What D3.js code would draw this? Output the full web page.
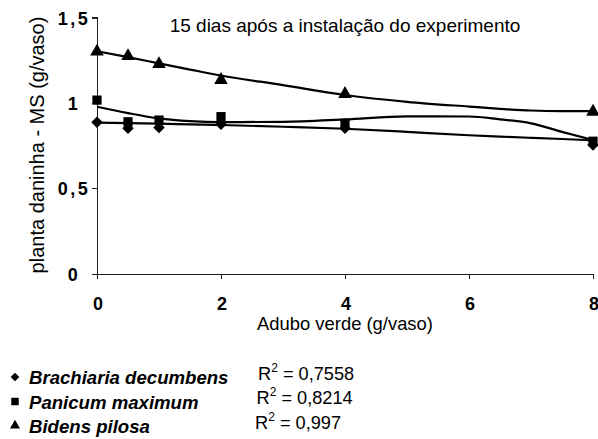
<!DOCTYPE html>
<html>
<head>
<meta charset="utf-8">
<script src="https://cdn.jsdelivr.net/npm/d3@7"></script>
<style>
  html, body { margin: 0; padding: 0; background: #fff; }
  svg { display: block; font-family: Arial, "Liberation Sans", sans-serif; }
</style>
</head>
<body>
<svg id="chart" width="598" height="439"></svg>
<script>
// ---- data ----
const doses = [0, 0.5, 1, 2, 4, 8];
const brachiaria = [0.886, 0.851, 0.856, 0.875, 0.851, 0.753];
const panicum = [1.016, 0.889, 0.899, 0.919, 0.880, 0.775];
const bidens = [1.30, 1.274, 1.227, 1.134, 1.052, 0.948];

// trend lines
const trendX = [0, 0.5, 1, 1.5, 2, 3, 4, 5, 6, 6.5, 7, 7.5, 8];
const trendBrachiaria = [0.884, 0.881, 0.878, 0.874, 0.870, 0.860, 0.848, 0.830, 0.810, 0.802, 0.795, 0.788, 0.780];
const trendPanicum = [0.977, 0.940, 0.909, 0.893, 0.887, 0.889, 0.903, 0.921, 0.920, 0.903, 0.880, 0.830, 0.782];
const trendBidens = [1.302, 1.268, 1.231, 1.195, 1.160, 1.104, 1.046, 1.006, 0.978, 0.965, 0.955, 0.952, 0.952];

const xTicks = [0, 2, 4, 6, 8];
const yTicks = [0, 0.5, 1, 1.5];
const yTickLabels = ["0", "0,5", "1", "1,5"];

const seriesNames = ["Brachiaria decumbens", "Panicum maximum", "Bidens pilosa"];
const r2Labels = ["0,7558", "0,8214", "0,997"];
const title = "15 dias após a instalação do experimento";
const xTitle = "Adubo verde (g/vaso)";
const yTitle = "planta daninha - MS (g/vaso)";

// ---- drawing ----
const svg = d3.select("#chart");
const x = d3.scaleLinear().domain([0, 8]).range([97, 593]);
const y = d3.scaleLinear().domain([0, 1.5]).range([273.5, 17.5]);

// axes
const xAxis = svg.append("g").attr("transform", `translate(0,${y(0)})`)
  .call(d3.axisBottom(x).tickValues(xTicks).tickSize(5).tickFormat(""));
const yAxis = svg.append("g").attr("transform", `translate(${x(0)},0)`)
  .call(d3.axisLeft(y).tickValues(yTicks).tickSize(5).tickFormat(""));
[xAxis, yAxis].forEach(a => {
  a.selectAll("path, line").attr("stroke", "#222").attr("stroke-width", 1).attr("shape-rendering", "crispEdges");
});
xAxis.select(".domain").attr("d", `M${x(0)},0.5H${x(8)}V5.5`);
yAxis.select(".domain").attr("d", `M-5,${y(1.5)}H0V${y(0)}`);

// tick labels
svg.append("g").selectAll("text").data(xTicks).join("text")
  .attr("x", d => x(d) + 1).attr("y", 309.5)
  .attr("text-anchor", "middle").attr("font-weight", "bold").attr("font-size", 18)
  .text(d => d);
svg.append("g").selectAll("text").data(yTicks).join("text")
  .attr("x", 74).attr("y", d => y(d) + 7)
  .attr("text-anchor", "middle").attr("font-weight", "bold").attr("font-size", 18)
  .attr("letter-spacing", 2.5)
  .text((d, i) => yTickLabels[i]);

// titles
svg.append("text").attr("x", 345).attr("y", 31.5).attr("text-anchor", "middle")
  .attr("font-size", 19).text(title);
svg.append("text").attr("x", 345).attr("y", 330).attr("text-anchor", "middle")
  .attr("font-size", 18.4).text(xTitle);
svg.append("text").attr("transform", "translate(43.5,145) rotate(-90)").attr("text-anchor", "middle")
  .attr("font-size", 20).text(yTitle);

// trend lines
const line = d3.line().x(d => x(d[0])).y(d => y(d[1])).curve(d3.curveMonotoneX);
[trendBrachiaria, trendPanicum, trendBidens].forEach(t => {
  svg.append("path").datum(trendX.map((v, i) => [v, t[i]]))
    .attr("d", line).attr("fill", "none").attr("stroke", "#000").attr("stroke-width", 2.2);
});

// markers
function drawMarkers(vals, sym) {
  svg.append("g").selectAll("path").data(vals).join("path")
    .attr("transform", (d, i) => `translate(${x(doses[i])},${y(d)})`)
    .attr("d", sym).attr("fill", "#000");
}
drawMarkers(brachiaria, d3.symbol().type(d3.symbolDiamond2).size(85));
drawMarkers(panicum, d3.symbol().type(d3.symbolSquare).size(85));
drawMarkers(bidens, d3.symbol().type(d3.symbolTriangle).size(80));

// legend
const legY = [377, 401.5, 425.5];
const legSyms = [
  d3.symbol().type(d3.symbolDiamond2).size(48),
  d3.symbol().type(d3.symbolSquare).size(56),
  d3.symbol().type(d3.symbolTriangle).size(44)
];
seriesNames.forEach((n, i) => {
  svg.append("path").attr("transform", `translate(15,${legY[i]})`).attr("d", legSyms[i]).attr("fill", "#000");
  svg.append("text").attr("x", 29).attr("y", legY[i] + 7)
    .attr("font-weight", "bold").attr("font-style", "italic").attr("font-size", 18.6).text(n);
});
const r2X = [258, 256.5, 255];
const r2Y = [379.5, 404, 428.5];
r2Labels.forEach((r, i) => {
  const t = svg.append("text").attr("x", r2X[i]).attr("y", r2Y[i]).attr("font-size", 18.2);
  t.append("tspan").text("R");
  t.append("tspan").attr("font-size", 12).attr("dy", -8).text("2");
  t.append("tspan").attr("dy", 8).text(" = " + r);
});
</script>
</body>
</html>
